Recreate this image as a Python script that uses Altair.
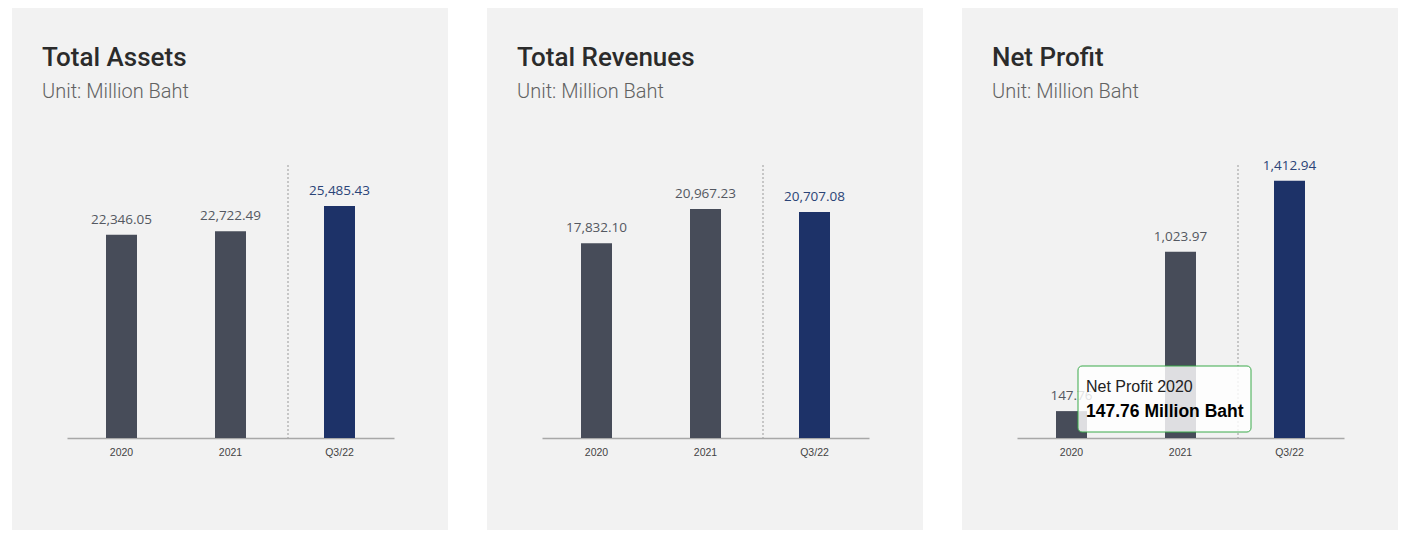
import altair as alt
import pandas as pd

categories = ["2020", "2021", "Q3/22"]
assets = [22346.05, 22722.49, 25485.43]
revenues = [17832.10, 20967.23, 20707.08]
net_profit = [147.76, 1023.97, 1412.94]
titles = ["Total Assets", "Total Revenues", "Net Profit"]
unit_label = "Unit: Million Baht"
y_max = [30000, 25000, 1500]
tooltip_title = "Net Profit 2020"
tooltip_value = "147.76 Million Baht"

BG = "#f2f2f2"
BAR_PAST = "#474c59"
BAR_NOW = "#1d3268"
LBL_PAST = "#545861"
LBL_NOW = "#2b4477"

W, H = 436, 522
BASE = 430
TOP = 157


def panel(title, values, ymax, tooltip=False):
    df = pd.DataFrame({"cat": categories, "value": values})
    xscale = alt.Scale(domain=categories, range=[55, 382], paddingInner=0, paddingOuter=0)
    yscale = alt.Scale(domain=[0, ymax], range=[BASE, TOP], nice=False, zero=True)
    x_axis = alt.Axis(title=None, offset=BASE - H, domainColor="#a8a8a8", domainWidth=1.5,
                      ticks=False, labelFont="Liberation Sans", labelFontSize=10.5,
                      labelColor="#444444", labelPadding=9, grid=False, labelAngle=0)
    X = alt.X("cat:N", scale=xscale, sort=categories, axis=x_axis)

    bars = alt.Chart(df).mark_bar(size=31).encode(
        x=X,
        y=alt.Y("value:Q", scale=yscale, axis=None),
        color=alt.condition(alt.datum.cat == "Q3/22", alt.value(BAR_NOW), alt.value(BAR_PAST)),
    )
    labels = alt.Chart(df).mark_text(dy=-11, baseline="alphabetic", fontSize=13.5,
                                     font="Open Sans").encode(
        x=X,
        y=alt.Y("value:Q", scale=yscale, axis=None),
        text=alt.Text("value:Q", format=",.2f"),
        color=alt.condition(alt.datum.cat == "Q3/22", alt.value(LBL_NOW), alt.value(LBL_PAST)),
    )
    rule_df = pd.DataFrame({"cat": ["Q3/22"], "top": [ymax], "bottom": [0]})
    divider = alt.Chart(rule_df).mark_rule(color="#9a9a9a", strokeDash=[2, 2], strokeWidth=1,
                                           xOffset=3).encode(
        x=alt.X("cat:N", scale=xscale, sort=categories, axis=x_axis, bandPosition=0),
        y=alt.Y("top:Q", scale=yscale, axis=None),
        y2="bottom:Q",
    )
    tdf = pd.DataFrame({"t": [title]})
    title_mark = alt.Chart(tdf).mark_text(align="left", baseline="alphabetic", fontSize=26,
                                          font="Roboto", fontWeight=500, color="#2b2b2b").encode(
        x=alt.value(30), y=alt.value(58), text="t:N")
    udf = pd.DataFrame({"t": [unit_label]})
    unit_mark = alt.Chart(udf).mark_text(align="left", baseline="alphabetic", fontSize=20,
                                         font="Roboto", fontWeight=300, color="#626262").encode(
        x=alt.value(30), y=alt.value(90), text="t:N")
    layers = [bars, labels, divider, title_mark, unit_mark]
    if tooltip:
        bdf = pd.DataFrame({"a": [1]})
        box = alt.Chart(bdf).mark_rect(fill="white", fillOpacity=0.82, stroke="#3aaa4a",
                                       strokeWidth=1, cornerRadius=4).encode(
            x=alt.value(116), x2=alt.value(289), y=alt.value(358), y2=alt.value(424))
        t1 = alt.Chart(pd.DataFrame({"t": [tooltip_title]})).mark_text(
            align="left", baseline="alphabetic", fontSize=16, font="Liberation Sans",
            color="#222222").encode(x=alt.value(124), y=alt.value(384), text="t:N")
        t2 = alt.Chart(pd.DataFrame({"t": [tooltip_value]})).mark_text(
            align="left", baseline="alphabetic", fontSize=17.5, font="Liberation Sans",
            fontWeight="bold", color="#000000").encode(x=alt.value(124), y=alt.value(409), text="t:N")
        layers += [box, t1, t2]
    return alt.layer(*layers).properties(width=W, height=H)


p1 = panel(titles[0], assets, y_max[0])
p2 = panel(titles[1], revenues, y_max[1])
p3 = panel(titles[2], net_profit, y_max[2], tooltip=True)

chart = alt.hconcat(p1, p2, p3, spacing=39).properties(
    padding={"left": 4, "top": 0, "right": 0, "bottom": 0},
    background="white",
).configure_view(fill=BG, stroke=None)

chart.save("out.html", embed_options={"renderer": "svg", "actions": False})
